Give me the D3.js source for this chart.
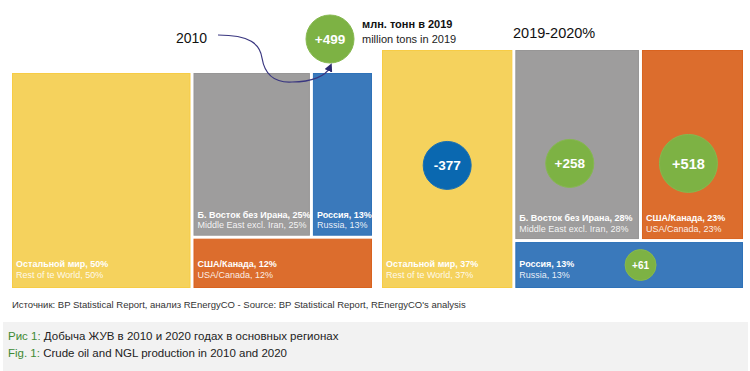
<!DOCTYPE html>
<html lang="ru">
<head>
    <meta charset="UTF-8">
    <title>Crude oil and NGL production 2010 / 2020</title>
    <script src="https://d3js.org/d3.v7.js"></script>
    <style>
        body {
            margin: 0;
            background: #fff;
            font-family: "Liberation Sans", Arial, sans-serif;
        }
        svg text { font-family: "Liberation Sans", Arial, sans-serif; }
    </style>
</head>
<body>
    <svg id="chart"></svg>

    <script>
        // Data
        const regionsRu = ["Остальной мир", "Б. Восток без Ирана", "Россия", "США/Канада"];
        const regionsEn = ["Rest of te World", "Middle East excl. Iran", "Russia", "USA/Canada"];
        const share2010 = [50, 25, 13, 12];
        const share2020 = [37, 28, 13, 23];
        const change2019 = [-377, 258, 61, 518];   // млн. тонн
        const totalChange = 499;
        // tile order: column, top row (2 tiles), bottom row
        const order2010 = [0, 1, 2, 3];
        const order2020 = [0, 1, 3, 2];

        // Styles
        const width = 750;
        const height = 371;
        const regionColor = ["#f5d25d", "#9e9d9d", "#3a79bb", "#dc6d2d"];
        const regionStroke = ["#f7cc45", "#979696", "#2f72b8", "#d9631f"];
        const green = "#7db244";
        const negBlue = "#0a68b0";
        const gap = 1.5;

        const svg = d3.select("#chart")
            .attr("width", width)
            .attr("height", height);

        // Treemap-like layout: first item is a full-height column,
        // next two share the top row, last one fills the bottom row
        function layout(order, shares, x0, y0, x1, y1) {
            const s = order.map(i => shares[i]);
            const total = d3.sum(s);
            const xCol = d3.scaleLinear().domain([0, total]).range([x0, x1]);
            const xSplit = xCol(s[0]);
            const yRest = d3.scaleLinear().domain([0, total - s[0]]).range([y0, y1]);
            const ySplit = yRest(s[1] + s[2]);
            const xRow = d3.scaleLinear().domain([0, s[1] + s[2]]).range([xSplit, x1]);
            return [
                {i: order[0], x0: x0, y0: y0, x1: xSplit, y1: y1, row: "bottom"},
                {i: order[1], x0: xSplit, y0: y0, x1: xRow(s[1]), y1: ySplit, row: "top"},
                {i: order[2], x0: xRow(s[1]), y0: y0, x1: x1, y1: ySplit, row: "top"},
                {i: order[3], x0: xSplit, y0: ySplit, x1: x1, y1: y1, row: "bottom"}
            ].map(t => ({...t, x0: t.x0 + gap, y0: t.y0 + gap, x1: t.x1 - gap, y1: t.y1 - gap}));
        }

        function drawTiles(tiles, shares) {
            const g = svg.append("g");
            g.selectAll("rect")
                .data(tiles)
                .enter()
                .append("rect")
                .attr("x", d => d.x0 + 0.5)
                .attr("y", d => d.y0 + 0.5)
                .attr("width", d => d.x1 - d.x0 - 1)
                .attr("height", d => d.y1 - d.y0 - 1)
                .attr("fill", d => regionColor[d.i])
                .attr("stroke", d => regionStroke[d.i])
                .attr("stroke-width", 1);

            const lab = g.selectAll("g.lab")
                .data(tiles)
                .enter()
                .append("g")
                .attr("class", "lab")
                .attr("transform", d => `translate(${d.x0 + 4},${d.y1 - (d.row === "top" ? 17 : 20)})`);
            lab.append("text")
                .attr("y", -1)
                .attr("fill", "#fff")
                .attr("font-size", 9)
                .attr("font-weight", "bold")
                .text(d => `${regionsRu[d.i]}, ${shares[d.i]}%`);
            lab.append("text")
                .attr("y", 9.5)
                .attr("fill", "#fff")
                .attr("fill-opacity", 0.9)
                .attr("font-size", 9)
                .text(d => `${regionsEn[d.i]}, ${shares[d.i]}%`);
        }

        const tiles2010 = layout(order2010, share2010, 10.5, 71.5, 373.5, 289.5);
        const tiles2020 = layout(order2020, share2020, 380.5, 48.5, 744.5, 289.5);
        drawTiles(tiles2010, share2010);
        drawTiles(tiles2020, share2020);

        // Bubble sizes
        const rScale = d3.scaleLinear().domain([61, 250, 510, 518]).range([15.5, 24, 24, 29]);
        const fScale = d3.scaleLinear().domain([15.5, 24, 29]).range([10, 13.5, 14.5]);
        // where the bubble sits inside its tile (fraction of tile width / height), by region
        const anchor = {0: [0.5, 0.485], 1: [0.44, 0.6], 2: [0.55, 0.5], 3: [0.46, 0.6]};

        function bubble(cx, cy, v) {
            const r = rScale(Math.abs(v));
            const g = svg.append("g").attr("transform", `translate(${cx},${cy})`);
            g.append("circle")
                .attr("r", r)
                .attr("fill", v < 0 ? negBlue : green)
                .attr("stroke", v < 0 ? "#1a70b3" : "#86b84f")
                .attr("stroke-width", 1);
            g.append("text")
                .attr("text-anchor", "middle")
                .attr("dy", "0.36em")
                .attr("fill", "#fff")
                .attr("font-weight", "bold")
                .attr("font-size", fScale(r))
                .text((v > 0 ? "+" : "") + v);
        }

        tiles2020.forEach(t => {
            const [fx, fy] = anchor[t.i];
            bubble(t.x0 + fx * (t.x1 - t.x0), t.y0 + fy * (t.y1 - t.y0), change2019[t.i]);
        });

        // Headline annotation
        bubble(330, 39, totalChange);

        svg.append("text")
            .attr("x", 362).attr("y", 28)
            .attr("font-size", 11).attr("font-weight", "bold").attr("fill", "#111")
            .text("млн. тонн в 2019");
        svg.append("text")
            .attr("x", 362).attr("y", 43)
            .attr("font-size", 11).attr("fill", "#222")
            .text("million tons in 2019");

        svg.append("text")
            .attr("x", 176).attr("y", 43)
            .attr("font-size", 14).attr("fill", "#111")
            .text("2010");
        svg.append("text")
            .attr("x", 513).attr("y", 38)
            .attr("font-size", 14.5).attr("fill", "#111")
            .text("2019-2020%");

        // Curved arrow 2010 -> bubble
        svg.append("defs").append("marker")
            .attr("id", "head")
            .attr("viewBox", "0 0 10 10")
            .attr("refX", 5).attr("refY", 5)
            .attr("markerWidth", 7).attr("markerHeight", 7)
            .attr("orient", "auto")
            .append("path")
            .attr("d", "M0,0 L10,5 L0,10 Z")
            .attr("fill", "#2c2a70");

        svg.append("path")
            .attr("d", "M218,35 C250,35 260,44 262,58 C265,76 275,83 292,82 C312,82 326,76 330,67")
            .attr("fill", "none")
            .attr("stroke", "#3a3780")
            .attr("stroke-width", 1.2)
            .attr("marker-end", "url(#head)");

        // Source
        svg.append("text")
            .attr("x", 12).attr("y", 308)
            .attr("font-size", 9.5).attr("fill", "#333")
            .text("Источник: BP Statistical Report, анализ REnergyCO - Source: BP Statistical Report, REnergyCO's analysis");

        // Caption box
        svg.append("rect")
            .attr("x", 3).attr("y", 322)
            .attr("width", 745).attr("height", 49)
            .attr("fill", "#f2f2f2");

        const cap1 = svg.append("text").attr("x", 8).attr("y", 340).attr("font-size", 11.5).attr("fill", "#222");
        cap1.append("tspan").attr("fill", "#3f8a34").text("Рис 1: ");
        cap1.append("tspan").text("Добыча ЖУВ в 2010 и 2020 годах в основных регионах");
        const cap2 = svg.append("text").attr("x", 8).attr("y", 357).attr("font-size", 11.5).attr("fill", "#222");
        cap2.append("tspan").attr("fill", "#3f8a34").text("Fig. 1: ");
        cap2.append("tspan").text("Crude oil and NGL production in 2010 and 2020");
    </script>
</body>
</html>
